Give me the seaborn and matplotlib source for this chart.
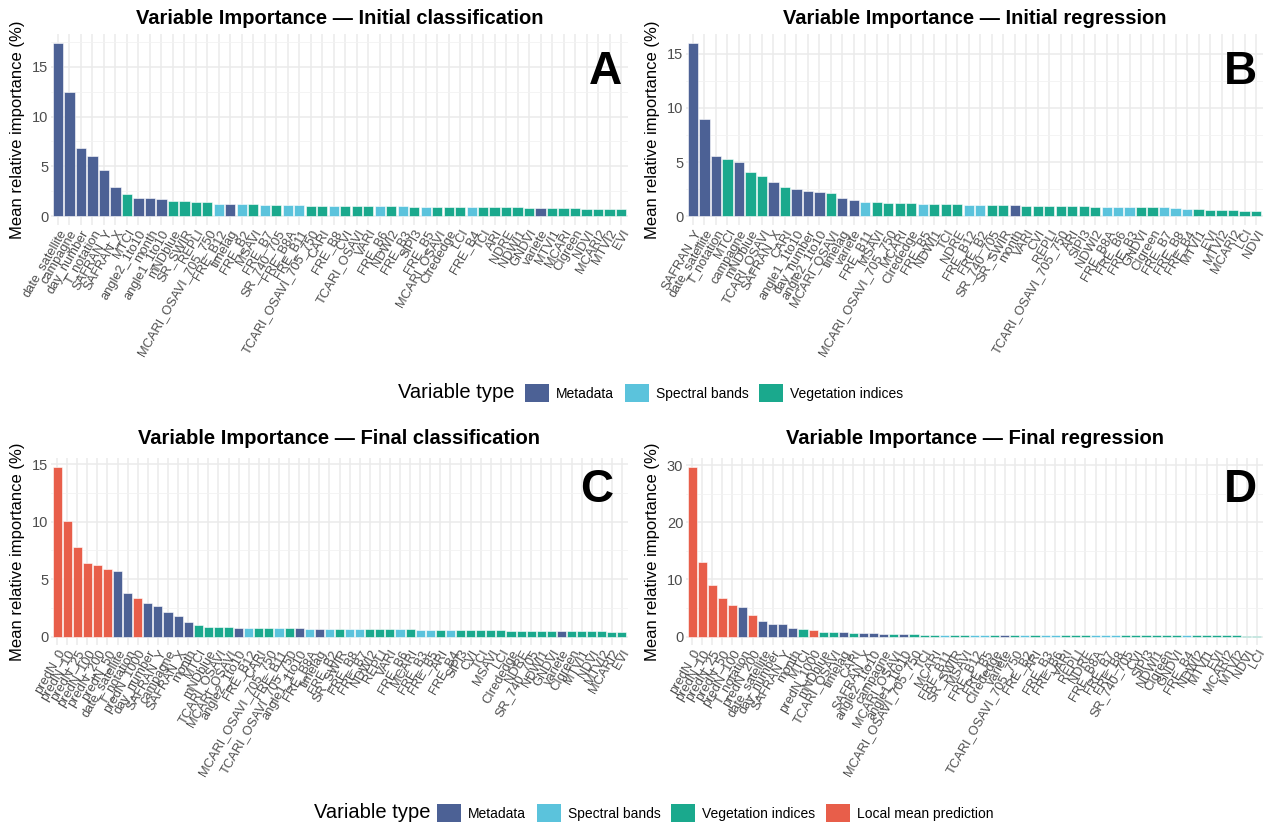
import matplotlib
matplotlib.use("Agg")
import matplotlib.pyplot as plt
from matplotlib.patches import Patch
from matplotlib.ticker import MultipleLocator
import pandas as pd
import seaborn as sns

# --- data ---
META = ["date_satellite", "campagne", "day_number", "T_notation", "SAFRAN_Y", "SAFRAN_X",
        "angle2_1to10", "month", "angle1_1to10", "timelag", "variete"]
BANDS = ["FRE_B2", "FRE_B3", "FRE_B4", "FRE_B5", "FRE_B6", "FRE_B7", "FRE_B8",
         "FRE_B8A", "FRE_B11", "FRE_B12"]
LOCAL = ["predN_0", "predN_10", "predN_25", "predN_50", "predN_100", "predN_200", "predN_1000"]

vars_a = ["date_satellite", "campagne", "day_number", "T_notation", "SAFRAN_Y", "SAFRAN_X",
          "MTCI", "angle2_1to10", "month", "angle1_1to10", "mNDblue", "SR_SWIR", "REPLI",
          "MCARI_OSAVI_705_750", "FRE_B12", "timelag", "FRE_B2", "MSAVI", "FRE_B7",
          "SR_740_705", "FRE_B8A", "FRE_B11", "TCARI_OSAVI_705_750", "CARI", "FRE_B8", "CVI",
          "TCARI_OSAVI", "VARI", "FRE_B6", "NDWI2", "FRE_B3", "SIPI3", "FRE_B5", "MCARI_OSAVI",
          "CIrededge", "LCI", "FRE_B4", "TCI", "ARI", "NDRE", "NDWI1", "GNDVI", "variete",
          "MTVI1", "MCARI", "CIgreen", "NDVI", "MCARI2", "MTVI2", "EVI"]
imp_a = [17.4, 12.5, 6.85, 6.05, 4.6, 2.95, 2.2, 1.88, 1.8, 1.78,
         1.55, 1.5, 1.48, 1.45, 1.25, 1.22, 1.2, 1.19, 1.17, 1.16,
         1.13, 1.12, 1.08, 1.07, 1.06, 1.05, 1.04, 1.03, 1.02, 1.0,
         0.99, 0.98, 0.97, 0.96, 0.95, 0.94, 0.93, 0.92, 0.91, 0.9,
         0.89, 0.88, 0.86, 0.84, 0.82, 0.8, 0.77, 0.74, 0.72, 0.7]

vars_b = ["SAFRAN_Y", "date_satellite", "T_notation", "MTCI", "campagne", "mNDblue",
          "TCARI_OSAVI", "SAFRAN_X", "CARI", "angle1_1to10", "day_number", "angle2_1to10",
          "MCARI_OSAVI", "timelag", "variete", "FRE_B11", "MSAVI", "MCARI_OSAVI_705_750",
          "MCARI", "CIrededge", "FRE_B5", "NDWI1", "TCI", "NDRE", "FRE_B12", "FRE_B2",
          "SR_740_705", "SR_SWIR", "month", "VARI", "CVI", "REPLI", "TCARI_OSAVI_705_750",
          "ARI", "SIPI3", "NDWI2", "FRE_B8A", "FRE_B6", "FRE_B3", "GNDVI", "CIgreen",
          "FRE_B7", "FRE_B8", "FRE_B4", "MTVI1", "EVI", "MTVI2", "MCARI2", "LCI", "NDVI"]
imp_b = [16.0, 9.0, 5.56, 5.3, 5.0, 4.1, 3.7, 3.16, 2.7, 2.56,
         2.31, 2.22, 2.19, 1.66, 1.53, 1.31, 1.28, 1.27, 1.22, 1.21,
         1.12, 1.11, 1.1, 1.09, 1.06, 1.05, 1.04, 1.02, 1.0, 0.98,
         0.96, 0.95, 0.93, 0.92, 0.91, 0.9, 0.89, 0.88, 0.87, 0.86,
         0.85, 0.83, 0.8, 0.72, 0.64, 0.61, 0.58, 0.56, 0.53, 0.47]

vars_c = ["predN_0", "predN_10", "predN_25", "predN_100", "predN_200", "predN_50",
          "date_satellite", "T_notation", "predN_1000", "day_number", "SAFRAN_Y", "campagne",
          "SAFRAN_X", "month", "MTCI", "mNDblue", "TCARI_OSAVI", "MCARI_OSAVI", "angle2_1to10",
          "FRE_B12", "CARI", "MCARI_OSAVI_705_750", "FRE_B11", "TCARI_OSAVI_705_750",
          "angle1_1to10", "FRE_B8A", "timelag", "FRE_B2", "SR_SWIR", "FRE_B8", "FRE_B7",
          "NDWI2", "REPLI", "VARI", "FRE_B6", "MCARI", "FRE_B3", "FRE_B5", "ARI", "FRE_B4",
          "SIPI3", "CVI", "TCI", "MSAVI", "LCI", "CIrededge", "NDRE", "SR_740_705", "NDWI1",
          "GNDVI", "variete", "CIgreen", "MTVI1", "NDVI", "MTVI2", "MCARI2", "EVI"]
imp_c = [14.8, 10.05, 7.8, 6.37, 6.25, 5.87, 5.7, 3.76, 3.38, 2.92,
         2.63, 2.14, 1.82, 1.27, 1.01, 0.85, 0.84, 0.83, 0.77, 0.75,
         0.74, 0.73, 0.72, 0.71, 0.7, 0.69, 0.68, 0.67, 0.66, 0.65,
         0.64, 0.63, 0.63, 0.62, 0.61, 0.61, 0.6, 0.59, 0.58, 0.57,
         0.56, 0.55, 0.55, 0.54, 0.53, 0.52, 0.51, 0.5, 0.49, 0.49,
         0.48, 0.47, 0.46, 0.45, 0.44, 0.43, 0.42]

vars_d = ["predN_0", "predN_10", "predN_25", "predN_50", "predN_100", "T_notation",
          "predN_200", "date_satellite", "day_number", "SAFRAN_Y", "month", "MTCI",
          "predN_1000", "mNDblue", "TCARI_OSAVI", "timelag", "CARI", "SAFRAN_X",
          "angle2_1to10", "campagne", "MCARI_OSAVI", "angle1_1to10", "MCARI_OSAVI_705_750",
          "TCI", "MCARI", "FRE_B11", "SR_SWIR", "MSAVI", "FRE_B12", "FRE_B5", "CIrededge",
          "variete", "TCARI_OSAVI_705_750", "FRE_B2", "ARI", "FRE_B3", "FRE_B6", "VARI",
          "REPLI", "NDRE", "FRE_B8A", "FRE_B7", "FRE_B8", "SR_740_705", "CVI", "SIPI3",
          "NDWI1", "CIgreen", "GNDVI", "FRE_B4", "NDWI2", "MTVI1", "EVI", "MCARI2", "MTVI2",
          "NDVI", "LCI"]
imp_d = [29.8, 13.0, 9.1, 6.8, 5.45, 5.15, 3.8, 2.7, 2.2, 2.2,
         1.47, 1.23, 1.15, 0.8, 0.79, 0.74, 0.64, 0.54, 0.53, 0.52,
         0.52, 0.46, 0.36, 0.34, 0.33, 0.32, 0.31, 0.3, 0.3, 0.29,
         0.29, 0.28, 0.28, 0.27, 0.27, 0.26, 0.26, 0.25, 0.25, 0.25,
         0.24, 0.24, 0.23, 0.23, 0.23, 0.22, 0.22, 0.21, 0.21, 0.21,
         0.2, 0.19, 0.19, 0.18, 0.18, 0.17, 0.17]

COLORS = {"Metadata": "#4C6195", "Spectral bands": "#5BC3DC",
          "Vegetation indices": "#1AA98D", "Local mean prediction": "#E85E4A"}

W, H = 1276, 827

sns.set_theme(style="white")
plt.rcParams["font.family"] = ["Liberation Sans", "DejaVu Sans"]
plt.rcParams["text.color"] = "black"


def var_type(v):
    if v in META:
        return "Metadata"
    if v in BANDS:
        return "Spectral bands"
    if v in LOCAL:
        return "Local mean prediction"
    return "Vegetation indices"


def px_axes(fig, left, top, right, bottom):
    return fig.add_axes([left / W, 1 - bottom / H, (right - left) / W, (bottom - top) / H])


def draw_panel(fig, box, names, values, title, title_y, letter, letter_xy, step):
    assert len(names) == len(values)
    df = pd.DataFrame({"var": names, "imp": values})
    df["type"] = df["var"].apply(var_type)
    ax = px_axes(fig, *box)
    sns.barplot(data=df, x="var", y="imp", hue="type", order=names, palette=COLORS,
                dodge=False, width=0.9, saturation=1, edgecolor="white", linewidth=0.4,
                legend=False, ax=ax)
    n = len(names)
    ax.set_xlim(-0.6, n - 0.4)
    top = max(values)
    ax.set_ylim(-0.05 * top, top * 1.05)
    ax.yaxis.set_major_locator(MultipleLocator(step))
    ax.yaxis.set_minor_locator(MultipleLocator(step / 2))
    ax.set_axisbelow(True)
    ax.grid(axis="y", which="major", color="#EBEBEB", lw=1.1)
    ax.grid(axis="y", which="minor", color="#F2F2F2", lw=0.6)
    ax.grid(axis="x", which="major", color="#EBEBEB", lw=1.1)
    for s in ax.spines.values():
        s.set_visible(False)
    ax.tick_params(length=0, pad=2)
    ax.tick_params(axis="y", labelsize=10.5, labelcolor="#4D4D4D")
    ax.set_xticks(range(n))
    ax.set_xticklabels(names, rotation=60, ha="right", rotation_mode="anchor",
                       fontsize=9.3, color="#4D4D4D")
    ax.set_xlabel("")
    ax.set_ylabel("")
    cx = (box[0] + box[2]) / 2
    cy = (box[1] + box[3]) / 2
    fig.text(cx / W, 1 - title_y / H, title, ha="center", va="center",
             fontsize=14.5, fontweight="bold")
    fig.text((box[0] - 33) / W, 1 - cy / H, "Mean relative importance (%)",
             rotation=90, ha="center", va="center", fontsize=12)
    fig.text(letter_xy[0] / W, 1 - letter_xy[1] / H, letter, ha="center", va="center",
             fontsize=33, fontweight="heavy")
    return ax


def draw_legend(fig, types, title_right, boxes_left, y):
    handles = [Patch(facecolor=COLORS[t], edgecolor="none") for t in types]
    fig.legend(handles, types, loc="center left", bbox_to_anchor=(boxes_left / W, 1 - y / H),
               ncol=len(types), frameon=False, fontsize=10, handlelength=1.75,
               handleheight=1.6, handletextpad=0.5, columnspacing=0.75, borderpad=0,
               borderaxespad=0)
    fig.text(title_right / W, 1 - y / H, "Variable type", ha="right", va="center",
             fontsize=14.5)


def main():
    fig = plt.figure(figsize=(W / 100, H / 100), dpi=100)
    draw_panel(fig, (51, 34, 628, 225), vars_a, imp_a,
               "Variable Importance — Initial classification", 18, "A", (605, 72), 5)
    draw_panel(fig, (686, 34, 1263, 225), vars_b, imp_b,
               "Variable Importance — Initial regression", 18, "B", (1240, 72), 5)
    draw_panel(fig, (51, 458, 628, 645), vars_c, imp_c,
               "Variable Importance — Final classification", 438, "C", (597, 490), 5)
    draw_panel(fig, (686, 458, 1263, 645), vars_d, imp_d,
               "Variable Importance — Final regression", 438, "D", (1240, 490), 10)

    draw_legend(fig, ["Metadata", "Spectral bands", "Vegetation indices"], 515, 525, 393)
    draw_legend(fig, ["Metadata", "Spectral bands", "Vegetation indices",
                      "Local mean prediction"], 430, 437, 813)

    fig.savefig("out.png", dpi=100, facecolor="white")
    plt.close(fig)


if __name__ == "__main__":
    main()
